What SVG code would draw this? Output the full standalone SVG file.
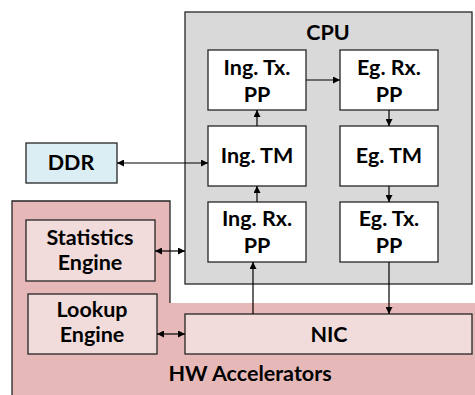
<svg xmlns="http://www.w3.org/2000/svg" width="475" height="395" viewBox="0 0 475 395">
<style>
text{font-family:Lato,"Open Sans","Liberation Sans",sans-serif;font-weight:bold;font-size:21.5px;fill:#000;text-anchor:middle}
.box{fill:#fff;stroke:#262626;stroke-width:1.3}
.pk{fill:#F2DCDB;stroke:#262626;stroke-width:1.3}
.ln{stroke:#000;stroke-width:1.2;fill:none}
</style>
<defs>
<marker id="ah" viewBox="0 0 10 10" refX="10" refY="5" markerWidth="7" markerHeight="7" markerUnits="userSpaceOnUse" orient="auto-start-reverse">
<path d="M0,0L10,5L0,10z" fill="#000"/>
</marker>
</defs>
<g id="hw">
<path d="M12,201H170V303H475V395H12Z" fill="#E6B9B8"/>
<path d="M12,395V201H170V303" fill="none" stroke="#262626" stroke-width="1.3"/>
<text x="250" y="381">HW Accelerators</text>
</g>
<g id="cpu">
<rect x="185" y="12" width="287" height="272" fill="#D9D9D9" stroke="#262626" stroke-width="1.3"/>
<text x="328" y="40">CPU</text>
</g>
<g id="ing-tx"><rect class="box" x="208" y="50" width="98" height="60"/><text x="257" y="75">Ing. Tx.</text><text x="257" y="102">PP</text></g>
<g id="eg-rx"><rect class="box" x="340" y="50" width="98" height="60"/><text x="389" y="75">Eg. Rx.</text><text x="389" y="102">PP</text></g>
<g id="ing-tm"><rect class="box" x="208" y="126" width="98" height="60"/><text x="257" y="163">Ing. TM</text></g>
<g id="eg-tm"><rect class="box" x="340" y="126" width="98" height="60"/><text x="389" y="163">Eg. TM</text></g>
<g id="ing-rx"><rect class="box" x="208" y="202" width="98" height="60"/><text x="257" y="226">Ing. Rx.</text><text x="257" y="253">PP</text></g>
<g id="eg-tx"><rect class="box" x="340" y="202" width="98" height="60"/><text x="389" y="226">Eg. Tx.</text><text x="389" y="253">PP</text></g>
<g id="ddr"><rect x="26" y="143" width="91" height="40" fill="#DBEEF4" stroke="#262626" stroke-width="1.3"/><text x="71" y="170">DDR</text></g>
<g id="stats"><rect class="pk" x="26" y="220" width="129" height="61"/><text x="90" y="245">Statistics</text><text x="90" y="270">Engine</text></g>
<g id="lookup"><rect class="pk" x="28" y="294" width="129" height="60"/><text x="92" y="317">Lookup</text><text x="92" y="342">Engine</text></g>
<g id="nic"><rect class="pk" x="185" y="314" width="287" height="40"/><text x="329" y="342">NIC</text></g>
<g id="connectors">
<line class="ln" x1="306" y1="80" x2="340" y2="80" marker-end="url(#ah)"/>
<line class="ln" x1="389" y1="110" x2="389" y2="126" marker-end="url(#ah)"/>
<line class="ln" x1="389" y1="186" x2="389" y2="202" marker-end="url(#ah)"/>
<line class="ln" x1="257" y1="126" x2="257" y2="110" marker-end="url(#ah)"/>
<line class="ln" x1="257" y1="202" x2="257" y2="186" marker-end="url(#ah)"/>
<line class="ln" x1="117" y1="163" x2="208" y2="163" marker-start="url(#ah)" marker-end="url(#ah)"/>
<line class="ln" x1="155" y1="251" x2="185" y2="251" marker-start="url(#ah)" marker-end="url(#ah)"/>
<line class="ln" x1="157" y1="334" x2="185" y2="334" marker-start="url(#ah)" marker-end="url(#ah)"/>
<line class="ln" x1="253" y1="314" x2="253" y2="262" marker-end="url(#ah)"/>
<line class="ln" x1="389" y1="262" x2="389" y2="314" marker-end="url(#ah)"/>
</g>
</svg>
